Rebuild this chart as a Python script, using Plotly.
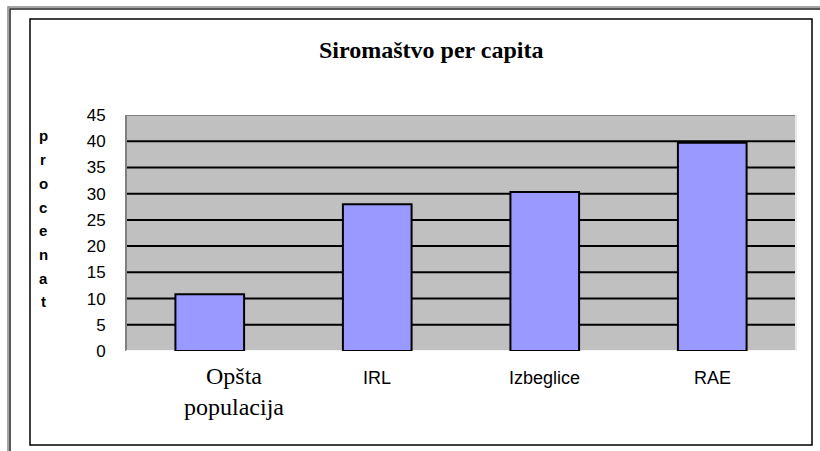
import plotly.graph_objects as go

categories = ["Opšta populacija", "IRL", "Izbeglice", "RAE"]
values = [10.8, 28.0, 30.3, 39.7]
tick_vals = [0, 5, 10, 15, 20, 25, 30, 35, 40, 45]
grid_vals = [5, 10, 15, 20, 25, 30, 35, 40]
title_text = "Siromaštvo per capita"
y_label = "procenat"

W, H = 820, 451
def px(x):
    return x / W
def py(y):
    return 1 - y / H

fig = go.Figure()
fig.add_trace(go.Bar(
    x=categories, y=values,
    marker=dict(color="#9999FF", line=dict(color="black", width=2)),
    width=0.41,
    hoverinfo="skip",
))

shapes = []
for g in grid_vals:
    shapes.append(dict(type="line", xref="x domain", yref="y", x0=0, x1=1, y0=g, y1=g,
                       line=dict(color="black", width=2), layer="below"))
shapes.append(dict(type="line", xref="x domain", yref="y", x0=0, x1=1, y0=45, y1=45,
                   line=dict(color="#808080", width=2), layer="below"))
shapes.append(dict(type="line", xref="x domain", yref="y", x0=0, x1=0, y0=0, y1=45,
                   line=dict(color="#808080", width=2), layer="below"))
shapes.append(dict(type="line", xref="x domain", yref="y", x0=1, x1=1, y0=0, y1=45,
                   line=dict(color="#E8E8E8", width=2), layer="below"))
shapes.append(dict(type="line", xref="x domain", yref="y", x0=0, x1=1, y0=0, y1=0,
                   line=dict(color="#F4F4F4", width=2), layer="below"))
# outer frame (double line look: grey then dark)
shapes.append(dict(type="rect", xref="paper", yref="paper",
                   x0=px(8), x1=px(840), y0=py(7), y1=py(470),
                   line=dict(color="#888888", width=1.5), layer="above"))
shapes.append(dict(type="rect", xref="paper", yref="paper",
                   x0=px(10), x1=px(840), y0=py(9), y1=py(470),
                   line=dict(color="#222222", width=1.5), layer="above"))
shapes.append(dict(type="rect", xref="paper", yref="paper",
                   x0=px(30), x1=px(812), y0=py(19), y1=py(445),
                   line=dict(color="black", width=1.5), layer="above"))

annotations = []
annotations.append(dict(text="<b>" + title_text + "</b>", xref="paper", yref="paper",
                        x=px(431), y=py(50), xanchor="center", yanchor="middle",
                        showarrow=False,
                        font=dict(family="Liberation Serif, Times New Roman, serif", size=24, color="black")))
for i, ch in enumerate(y_label):
    annotations.append(dict(text="<b>" + ch + "</b>", xref="paper", yref="paper",
                            x=px(43), y=py(136 + i * 23.7), xanchor="center", yanchor="middle",
                            showarrow=False,
                            font=dict(family="Liberation Sans, Arial, sans-serif", size=15, color="black")))
for c in categories:
    if c == "Opšta populacija":
        annotations.append(dict(text="Opšta<br>populacija", xref="x", yref="paper",
                                x=c, y=py(391), xanchor="center", yanchor="middle",
                                xshift=24, showarrow=False,
                                font=dict(family="Liberation Serif, Times New Roman, serif", size=24, color="black")))
    else:
        annotations.append(dict(text=c, xref="x", yref="paper",
                                x=c, y=py(378), xanchor="center", yanchor="middle",
                                showarrow=False,
                                font=dict(family="Liberation Sans, Arial, sans-serif", size=18, color="black")))

fig.update_layout(
    template="none",
    width=W, height=H,
    autosize=False,
    margin=dict(l=0, r=0, t=0, b=0, pad=0, autoexpand=False),
    paper_bgcolor="white",
    plot_bgcolor="#C0C0C0",
    showlegend=False,
    shapes=shapes,
    annotations=annotations,
    xaxis=dict(domain=[px(126), px(796)], showticklabels=False, showgrid=False,
               zeroline=False, showline=False, ticks="", automargin=False),
    yaxis=dict(domain=[py(351), py(115)], range=[0, 45], tickvals=tick_vals,
               showgrid=False, zeroline=False, automargin=False,
               showline=False, ticks="outside", ticklen=16, tickcolor="rgba(0,0,0,0)",
               tickfont=dict(family="Liberation Sans, Arial, sans-serif", size=17, color="black")),
)

fig.write_html("out.html", config={"displayModeBar": False, "responsive": False},
               post_script="document.body.style.margin='0px';")
